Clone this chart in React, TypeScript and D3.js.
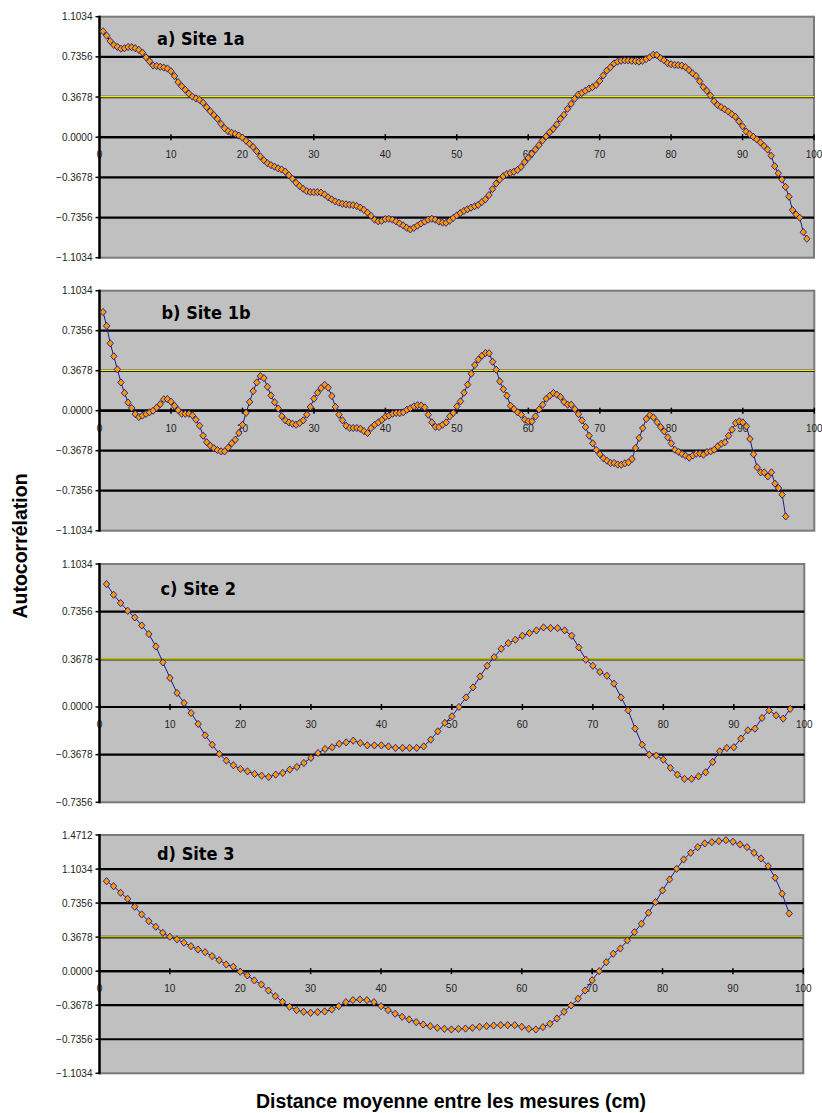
import React from "react";
import * as d3 from "d3";

// Autocorrelation by lag distance (cm) for each site.
// Site 1a and 1b are sampled every 0.5 cm, sites 2 and 3 every 1 cm.
const lagStartA = 0.5;
const lagStepA = 0.5;
const site1a = [
  0.97, 0.93, 0.88, 0.845, 0.827, 0.81, 0.815, 0.826, 0.824, 0.815,
  0.80, 0.775, 0.732, 0.695, 0.656, 0.652, 0.645, 0.638, 0.629, 0.604,
  0.56, 0.505, 0.467, 0.435, 0.40, 0.372, 0.355, 0.342, 0.315, 0.275,
  0.238, 0.203, 0.168, 0.122, 0.082, 0.055, 0.04, 0.03, 0.015, -0.003,
  -0.032, -0.06, -0.09, -0.128, -0.175, -0.21, -0.238, -0.256, -0.27, -0.285,
  -0.296, -0.315, -0.348, -0.38, -0.417, -0.447, -0.472, -0.494, -0.502, -0.503,
  -0.503, -0.507, -0.525, -0.55, -0.57, -0.588, -0.6, -0.61, -0.615, -0.618,
  -0.622, -0.63, -0.645, -0.665, -0.69, -0.72, -0.755, -0.77, -0.765, -0.75,
  -0.748, -0.755, -0.77, -0.79, -0.808, -0.83, -0.844, -0.83, -0.81, -0.79,
  -0.772, -0.755, -0.747, -0.755, -0.772, -0.782, -0.784, -0.765, -0.74, -0.716,
  -0.695, -0.675, -0.66, -0.645, -0.632, -0.62, -0.595, -0.57, -0.53, -0.475,
  -0.425, -0.388, -0.357, -0.337, -0.326, -0.316, -0.3, -0.272, -0.228, -0.19,
  -0.152, -0.113, -0.073, -0.03, 0.008, 0.045, 0.077, 0.117, 0.168, 0.205,
  0.26, 0.305, 0.352, 0.39, 0.405, 0.425, 0.445, 0.458, 0.478, 0.515,
  0.565, 0.61, 0.64, 0.675, 0.692, 0.70, 0.703, 0.703, 0.70, 0.697,
  0.692, 0.70, 0.715, 0.732, 0.755, 0.752, 0.725, 0.705, 0.678, 0.668,
  0.662, 0.659, 0.656, 0.642, 0.615, 0.585, 0.56, 0.512, 0.46, 0.425,
  0.382, 0.33, 0.295, 0.275, 0.255, 0.235, 0.21, 0.187, 0.145, 0.10,
  0.052, 0.028, 0.004, -0.02, -0.048, -0.08, -0.113, -0.17, -0.265, -0.33,
  -0.387, -0.455, -0.545, -0.668, -0.707, -0.737, -0.869, -0.93,
];

const lagStartB = 0.5;
const lagStepB = 0.5;
const site1b = [
  0.907, 0.78, 0.62, 0.50, 0.38, 0.26, 0.163, 0.075, 0.025, -0.031,
  -0.058, -0.045, -0.03, -0.015, 0.0, 0.028, 0.06, 0.105, 0.107, 0.083,
  0.045, 0.005, -0.028, -0.028, -0.028, -0.043, -0.083, -0.138, -0.23, -0.29,
  -0.322, -0.345, -0.362, -0.374, -0.374, -0.34, -0.30, -0.267, -0.205, -0.13,
  -0.02, 0.08, 0.18, 0.26, 0.318, 0.30, 0.22, 0.14, 0.077, 0.02,
  -0.05, -0.089, -0.108, -0.12, -0.129, -0.113, -0.089, -0.037, 0.034, 0.11,
  0.165, 0.208, 0.238, 0.212, 0.135, 0.035, -0.037, -0.089, -0.138, -0.159,
  -0.159, -0.159, -0.166, -0.188, -0.205, -0.16, -0.129, -0.108, -0.085, -0.055,
  -0.045, -0.028, -0.021, -0.021, -0.015, 0.009, 0.023, 0.04, 0.05, 0.048,
  0.03, -0.037, -0.107, -0.148, -0.15, -0.129, -0.107, -0.052, -0.021, 0.04,
  0.086, 0.165, 0.24, 0.34, 0.42, 0.47, 0.505, 0.531, 0.528, 0.45,
  0.377, 0.27, 0.198, 0.138, 0.046, 0.015, -0.015, -0.037, -0.083, -0.098,
  -0.098, -0.052, 0.012, 0.055, 0.11, 0.138, 0.163, 0.147, 0.126, 0.08,
  0.055, 0.055, 0.015, -0.031, -0.089, -0.15, -0.23, -0.30, -0.36, -0.40,
  -0.437, -0.46, -0.481, -0.481, -0.495, -0.497, -0.483, -0.475, -0.444, -0.343,
  -0.25, -0.16, -0.076, -0.04, -0.062, -0.105, -0.15, -0.19, -0.245, -0.30,
  -0.36, -0.378, -0.398, -0.414, -0.432, -0.412, -0.395, -0.395, -0.405, -0.38,
  -0.374, -0.359, -0.328, -0.303, -0.29, -0.23, -0.175, -0.113, -0.098, -0.107,
  -0.144, -0.26, -0.40, -0.52, -0.567, -0.567, -0.604, -0.567, -0.671, -0.711,
  -0.772, -0.972,
];

const lagStartC = 1;
const lagStepC = 1;
const site2 = [
  0.948, 0.866, 0.802, 0.742, 0.691, 0.629, 0.563, 0.467, 0.344, 0.224,
  0.108, 0.031, -0.046, -0.131, -0.219, -0.291, -0.362, -0.414, -0.45, -0.478,
  -0.497, -0.517, -0.53, -0.54, -0.522, -0.509, -0.483, -0.463, -0.432, -0.393,
  -0.355, -0.324, -0.311, -0.285, -0.273, -0.26, -0.278, -0.296, -0.296, -0.296,
  -0.304, -0.316, -0.316, -0.316, -0.316, -0.304, -0.252, -0.188, -0.123, -0.072,
  0.0, 0.074, 0.151, 0.236, 0.318, 0.385, 0.449, 0.493, 0.519, 0.55,
  0.57, 0.591, 0.614, 0.609, 0.609, 0.591, 0.55, 0.46, 0.365, 0.318,
  0.27, 0.241, 0.18, 0.074, -0.026, -0.167, -0.291, -0.368, -0.375, -0.406,
  -0.47, -0.522, -0.555, -0.555, -0.535, -0.504, -0.424, -0.342, -0.316, -0.311,
  -0.244, -0.18, -0.167, -0.085, -0.026, -0.065, -0.09, -0.015,
];

const lagStartD = 1;
const lagStepD = 1;
const site3 = [
  0.972, 0.918, 0.847, 0.782, 0.696, 0.613, 0.54, 0.48, 0.415, 0.372,
  0.343, 0.307, 0.27, 0.234, 0.205, 0.162, 0.119, 0.072, 0.048, -0.006,
  -0.046, -0.1, -0.144, -0.209, -0.27, -0.331, -0.385, -0.421, -0.439, -0.45,
  -0.442, -0.435, -0.414, -0.378, -0.335, -0.313, -0.306, -0.313, -0.335, -0.378,
  -0.421, -0.46, -0.493, -0.522, -0.551, -0.576, -0.594, -0.612, -0.623, -0.63,
  -0.623, -0.62, -0.612, -0.601, -0.594, -0.587, -0.583, -0.583, -0.583, -0.601,
  -0.623, -0.63, -0.605, -0.568, -0.511, -0.439, -0.371, -0.298, -0.209, -0.097,
  0.0, 0.097, 0.188, 0.245, 0.332, 0.421, 0.512, 0.631, 0.746, 0.872,
  0.991, 1.106, 1.207, 1.279, 1.34, 1.38, 1.394, 1.405, 1.415, 1.398,
  1.369, 1.34, 1.279, 1.218, 1.135, 1.009, 0.836, 0.623,
];

// Axis ticks
const xTicks = [0, 10, 20, 30, 40, 50, 60, 70, 80, 90, 100];
const yTicksWide = [-1.1034, -0.7356, -0.3678, 0, 0.3678, 0.7356, 1.1034];
const yTicksSite2 = [-0.7356, -0.3678, 0, 0.3678, 0.7356, 1.1034];
const yTicksSite3 = [-1.1034, -0.7356, -0.3678, 0, 0.3678, 0.7356, 1.1034, 1.4712];
const highlightLevel = 0.3678;

const titles = ["a) Site 1a", "b) Site 1b", "c) Site 2", "d) Site 3"];
const yAxisTitle = "Autocorrélation";
const xAxisTitle = "Distance moyenne entre les mesures (cm)";

type Panel = {
  values: number[];
  start: number;
  step: number;
  yTicks: number[];
  title: string;
  left: number;
  right: number;
  top: number;
  bottom: number;
  titleX: number;
  titleY: number;
};

const panels: Panel[] = [
  { values: site1a, start: lagStartA, step: lagStepA, yTicks: yTicksWide, title: titles[0],
    left: 99.5, right: 814, top: 16.7, bottom: 257.7, titleX: 157, titleY: 45 },
  { values: site1b, start: lagStartB, step: lagStepB, yTicks: yTicksWide, title: titles[1],
    left: 99.5, right: 814.3, top: 290.7, bottom: 530.7, titleX: 161.5, titleY: 318.5 },
  { values: site2, start: lagStartC, step: lagStepC, yTicks: yTicksSite2, title: titles[2],
    left: 99.5, right: 804.3, top: 564, bottom: 802.3, titleX: 160.5, titleY: 595 },
  { values: site3, start: lagStartD, step: lagStepD, yTicks: yTicksSite3, title: titles[3],
    left: 99.5, right: 803.3, top: 835, bottom: 1073.3, titleX: 157, titleY: 859.5 },
];

const fmt = d3.format(".4f");
const tickFont = "'Liberation Sans', Arial, sans-serif";

function ChartPanel({ p }: { p: Panel }) {
  const x = d3.scaleLinear().domain([0, 100]).range([p.left, p.right]);
  const yMin = p.yTicks[0];
  const yMax = p.yTicks[p.yTicks.length - 1];
  const y = d3.scaleLinear().domain([yMin, yMax]).range([p.bottom, p.top]);
  const pts = p.values.map((v, i) => [p.start + i * p.step, v] as [number, number]);
  const line = d3.line<[number, number]>().x((d) => x(d[0])).y((d) => y(d[1]));
  const y0 = y(0);
  const hw = 3.2;
  const hh = 3.6;

  return (
    <g>
      <rect x={p.left} y={p.top} width={p.right - p.left} height={p.bottom - p.top}
        fill="#C0C0C0" stroke="#7a7a7a" strokeWidth={2} />
      {p.yTicks.filter((t) => t !== yMin && t !== yMax).map((t) => (
        t === highlightLevel ? (
          <g key={t}>
            <line x1={p.left} x2={p.right} y1={y(t)} y2={y(t)} stroke="#222" strokeWidth={2.6} />
            <line x1={p.left} x2={p.right} y1={y(t) - 0.4} y2={y(t) - 0.4} stroke="#F0F000" strokeWidth={1.2} />
          </g>
        ) : (
          <line key={t} x1={p.left} x2={p.right} y1={y(t)} y2={y(t)} stroke="#000" strokeWidth={2.2} />
        )
      ))}
      {/* category axis along zero */}
      <line x1={p.left} x2={p.right} y1={y0} y2={y0} stroke="#000" strokeWidth={2.2} />
      {xTicks.map((t) => (
        <g key={t}>
          <line x1={x(t)} x2={x(t)} y1={y0 - 3} y2={y0 + 3} stroke="#000" strokeWidth={1.5} />
          <text x={x(t)} y={y0 + 21} textAnchor="middle" fontSize={10} fontFamily={tickFont} fill="#222">
            {t}
          </text>
        </g>
      ))}
      {/* value axis */}
      <line x1={p.left} x2={p.left} y1={p.top - 1} y2={p.bottom + 1} stroke="#000" strokeWidth={2.4} />
      {p.yTicks.map((t) => (
        <g key={t}>
          <line x1={p.left - 4} x2={p.left} y1={y(t)} y2={y(t)} stroke="#000" strokeWidth={1.5} />
          <text x={p.left - 7} y={y(t) + 3.5} textAnchor="end" fontSize={10} fontFamily={tickFont} fill="#222">
            {fmt(t)}
          </text>
        </g>
      ))}
      <path d={line(pts) ?? ""} fill="none" stroke="#1a1a8c" strokeWidth={1} />
      {pts.map((d, i) => {
        const cx = x(d[0]);
        const cy = y(d[1]);
        return (
          <path key={i}
            d={`M${cx},${cy - hh}L${cx + hw},${cy}L${cx},${cy + hh}L${cx - hw},${cy}Z`}
            fill="#FF9900" stroke="#1a1a8c" strokeWidth={0.9} />
        );
      })}
      <text x={p.titleX} y={p.titleY} fontSize={18} fontWeight="bold"
        fontFamily="'Liberation Sans Narrow', 'DejaVu Sans Condensed', sans-serif" fill="#000">
        {p.title}
      </text>
    </g>
  );
}

export default function App() {
  return (
    <svg width={822} height={1113} viewBox="0 0 822 1113"
      style={{ position: "absolute", left: 0, top: 0, background: "#fff" }}>
      <rect x={0} y={0} width={822} height={1113} fill="#fff" />
      {panels.map((p, i) => (
        <ChartPanel key={i} p={p} />
      ))}
      <text transform="translate(27,546) rotate(-90)" textAnchor="middle" fontSize={19.5}
        fontWeight="bold" fontFamily="'Liberation Sans', Arial, sans-serif" fill="#000">
        {yAxisTitle}
      </text>
      <text x={451} y={1108} textAnchor="middle" fontSize={19.5} fontWeight="bold"
        fontFamily="'Liberation Sans', Arial, sans-serif" fill="#000">
        {xAxisTitle}
      </text>
    </svg>
  );
}
